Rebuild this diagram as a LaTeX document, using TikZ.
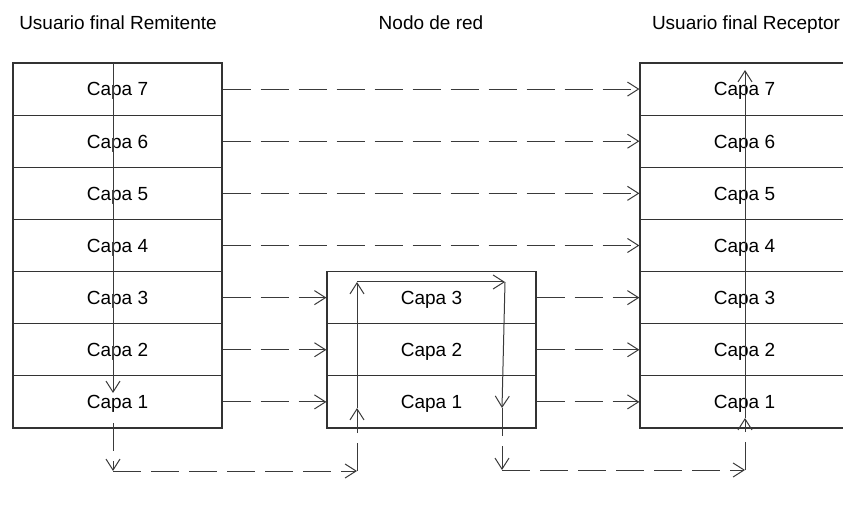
\documentclass[tikz,border=0pt]{standalone}
\usepackage{fontspec}
\setmainfont{Liberation Sans}
\usetikzlibrary{arrows.meta}
\definecolor{boxline}{HTML}{333333}
\definecolor{flowline}{HTML}{3A3A3A}
\begin{document}
\begin{tikzpicture}[x=1pt,y=-1pt,
  font=\fontsize{19pt}{23pt}\selectfont,
  layer/.style={draw=boxline, line width=1.2pt, minimum width=209pt,
    minimum height=52.14pt, inner sep=0pt, anchor=center,
    text height=13.6pt, text depth=0pt},
  title/.style={inner sep=0pt, anchor=center, text height=13.6pt, text depth=0pt},
  tip/.style={-{Straight Barb[length=11pt,width=14pt,line width=1pt]}},
  flow/.style={tip, draw=flowline, line width=1pt},
  dashflow/.style={flow, dash pattern=on 28pt off 10pt}]

\useasboundingbox (0,0) rectangle (843,510);

% column titles
\node[title] (tL) at (118,22.5) {Usuario final Remitente};
\node[title] (tM) at (431,22.5) {Nodo de red};
\node[title] (tR) at (746,22.5) {Usuario final Receptor};

% end-user stacks (7 layers each)
\foreach \n/\y in {7/89.07,6/141.21,5/193.35,4/245.49,3/297.63,2/349.77,1/401.91}{
  \node[layer] (L\n) at (117.5,\y) {Capa \n};
  \node[layer] (R\n) at (744.5,\y) {Capa \n};
}
% network node (3 layers)
\foreach \n/\y in {3/297.63,2/349.77,1/401.91}{
  \node[layer] (M\n) at (431.5,\y) {Capa \n};
}

% peer-to-peer dashed links
\foreach \n in {7,6,5,4}{
  \draw[dashflow] (L\n.east) -- (R\n.west);
}
\foreach \n in {3,2,1}{
  \draw[dashflow] (L\n.east) -- (M\n.west);
  \draw[dashflow] (M\n.east) -- (R\n.west);
}

% path of the data through the layers
\coordinate (s0) at (113,63);
\coordinate (s1) at (113,393);
\coordinate (s2) at (113,423);
\coordinate (s3) at (113,471);
\coordinate (n0) at (357,471);
\coordinate (n1) at (357,408);
\coordinate (n2) at (357,282);
\coordinate (n3) at (505,282);
\coordinate (n4) at (502,408);
\coordinate (n5) at (502,470);
\coordinate (r0) at (745,470);
\coordinate (r1) at (745,418);
\coordinate (r2) at (745,70);

\draw[flow] (s0) -- (s1);
\draw[dashflow] (s2) -- (s3);
\draw[dashflow] (s3) -- (n0);
\draw[dashflow] (n0) -- (n1);
\draw[flow] (n1) -- (n2);
\draw[flow] (n2) -- (n3);
\draw[flow] (n3) -- (n4);
\draw[dashflow] (n4) -- (n5);
\draw[dashflow] (n5) -- (r0);
\draw[dashflow] (r0) -- (r1);
\draw[flow] (r1) -- (r2);
\end{tikzpicture}
\end{document}
